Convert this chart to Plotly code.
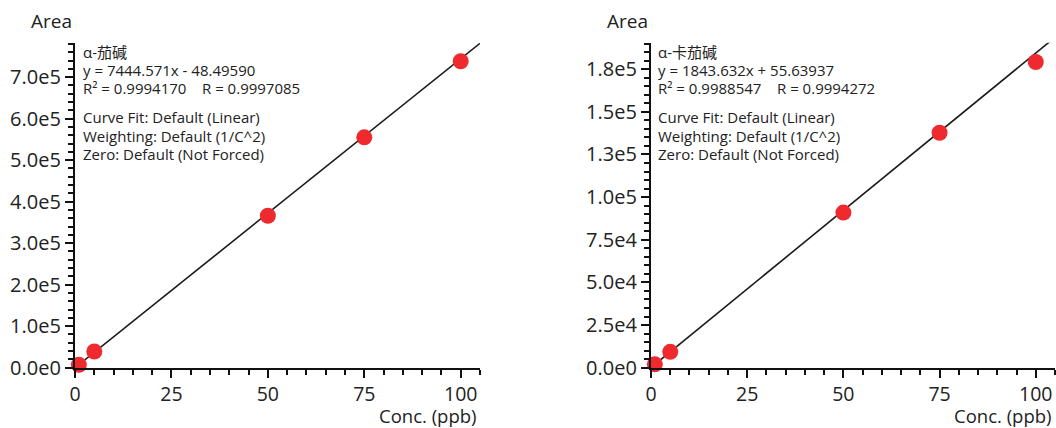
import plotly.graph_objects as go

# ---------------- data ----------------
conc = [1, 5, 50, 75, 100]
area_solanine = [7000, 39000, 366000, 555000, 738300]
area_chaconine = [2000, 9300, 90900, 137700, 179200]

slope = [7444.571, 1843.632]
intercept = [-48.49590, 55.63937]
x_line = [0, 105]

names = ["α-茄碱", "α-卡茄碱"]
equations = ["y = 7444.571x - 48.49590", "y = 1843.632x + 55.63937"]
r_texts = ["R² = 0.9994170    R = 0.9997085", "R² = 0.9988547    R = 0.9994272"]
fit_info = ["Curve Fit: Default (Linear)", "Weighting: Default (1/C^2)", "Zero: Default (Not Forced)"]

x_tickvals = [0, 25, 50, 75, 100]
x_ticktext = ["0", "25", "50", "75", "100"]
y1_tickvals = [0, 100000, 200000, 300000, 400000, 500000, 600000, 700000]
y1_ticktext = ["0.0e0", "1.0e5", "2.0e5", "3.0e5", "4.0e5", "5.0e5", "6.0e5", "7.0e5"]
y2_tickvals = [0, 25000, 50000, 75000, 100000, 125000, 150000, 175000]
y2_ticktext = ["0.0e0", "2.5e4", "5.0e4", "7.5e4", "1.0e5", "1.3e5", "1.5e5", "1.8e5"]

x_title = "Conc. (ppb)"
y_title = "Area"

# ---------------- layout helpers ----------------
W, H = 1056, 428
FONT = "Open Sans, Noto Sans CJK SC, sans-serif"
TXT = "#222222"
RED = "#EE2A2F"

def px(x):
    return x / W

def py(y):
    return 1 - y / H

panels = [
    dict(x0=75, x1=480, xref="x", yref="y", xa="xaxis", ya="yaxis",
         y=area_solanine, yr=[0, 783000], tv=y1_tickvals, tt=y1_ticktext, ydt=20000,
         text_x=81, title_x=75),
    dict(x0=651, x1=1055, xref="x2", yref="y2", xa="xaxis2", ya="yaxis2",
         y=area_chaconine, yr=[0, 190500], tv=y2_tickvals, tt=y2_ticktext, ydt=5000,
         text_x=656, title_x=651),
]
y_top, y_bot = 42.7, 367.7

fig = go.Figure()
annotations = []
layout = {}

for i, p in enumerate(panels):
    yl = [slope[i] * xv + intercept[i] for xv in x_line]
    fig.add_trace(go.Scatter(x=x_line, y=yl, mode="lines",
                             line=dict(color="#1a1a1a", width=1.6),
                             xaxis=p["xref"], yaxis=p["yref"], showlegend=False,
                             hoverinfo="skip"))
    fig.add_trace(go.Scatter(x=conc, y=p["y"], mode="markers",
                             marker=dict(color=RED, size=16, line=dict(width=0)),
                             cliponaxis=False,
                             xaxis=p["xref"], yaxis=p["yref"], showlegend=False))

    layout[p["xa"]] = dict(
        domain=[px(p["x0"]), px(p["x1"])], range=[0, 105], automargin=False,
        anchor=p["yref"], showgrid=False, zeroline=False,
        showline=True, linecolor="#111111", linewidth=2.2,
        ticks="outside", ticklen=8, tickwidth=2, tickcolor="#111111",
        tickmode="array", tickvals=x_tickvals, ticktext=x_ticktext,
        tickfont=dict(family=FONT, size=19.5, color=TXT),
        minor=dict(tickmode="linear", tick0=0, dtick=5, ticks="outside",
                   ticklen=5, tickwidth=2, tickcolor="#111111", showgrid=False),
        fixedrange=True,
    )
    layout[p["ya"]] = dict(
        domain=[py(y_bot), py(y_top)], range=p["yr"], automargin=False,
        anchor=p["xref"], showgrid=False, zeroline=False,
        showline=True, linecolor="#111111", linewidth=2.2,
        ticks="outside", ticklen=8, tickwidth=2, tickcolor="#111111",
        tickmode="array", tickvals=p["tv"], ticktext=p["tt"],
        tickfont=dict(family=FONT, size=20, color=TXT),
        minor=dict(tickmode="linear", tick0=0, dtick=p["ydt"], ticks="outside",
                   ticklen=5, tickwidth=2, tickcolor="#111111", showgrid=False),
        fixedrange=True,
    )

    # axis titles
    annotations.append(dict(text=y_title, x=px(p["title_x"] - 1), y=py(21.5),
                            xref="paper", yref="paper", xanchor="right", yanchor="middle",
                            showarrow=False, font=dict(family=FONT, size=19, color=TXT)))
    annotations.append(dict(text=x_title, x=px(p["x1"] - 1), y=py(415.5),
                            xref="paper", yref="paper", xanchor="right", yanchor="middle",
                            showarrow=False, font=dict(family=FONT, size=18.5, color=TXT)))

    # info text
    lines = [(names[i], 51.7), (equations[i], 70.2), (r_texts[i], 88.5),
             (fit_info[0], 117.3), (fit_info[1], 135.7), (fit_info[2], 154.2)]
    for txt, yy in lines:
        annotations.append(dict(text=txt, x=px(p["text_x"]), y=py(yy),
                                xref="paper", yref="paper", xanchor="left", yanchor="middle",
                                showarrow=False, font=dict(family=FONT, size=15, color=TXT)))

fig.update_layout(
    template="none",
    width=W, height=H, autosize=False,
    margin=dict(l=0, r=0, t=0, b=0, pad=0),
    paper_bgcolor="white", plot_bgcolor="white",
    annotations=annotations,
    font=dict(family=FONT, color=TXT),
    **layout,
)

fig.write_html("out.html", config={"displayModeBar": False},
               post_script="document.body.style.margin='0';document.body.style.padding='0';document.body.style.overflow='hidden';")
